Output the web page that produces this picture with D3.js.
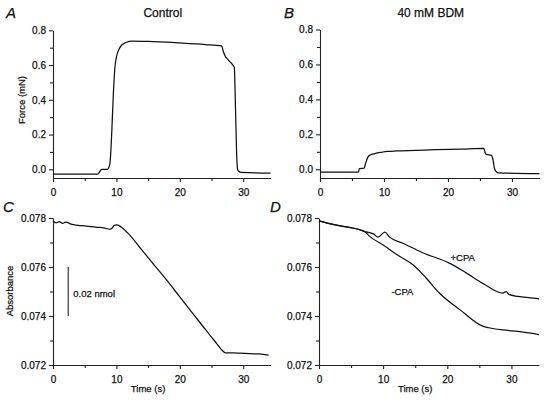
<!DOCTYPE html>
<html><head><meta charset="utf-8">
<script src="https://cdn.jsdelivr.net/npm/d3@7"></script>
<style>
body{margin:0;background:#fff;}
svg text{font-family:"Liberation Sans",Arial,Helvetica,sans-serif;fill:#111;stroke:#111;stroke-width:0.25px;}
</style></head>
<body><svg id="c" width="546" height="400"></svg>
<script>
// ---- data ----
const forceTicks = [0.0, 0.2, 0.4, 0.6, 0.8];
const forceMinor = [0.1, 0.3, 0.5, 0.7];
const absTicks = [0.072, 0.074, 0.076, 0.078];
const absMinor = [0.073, 0.075, 0.077];
const timeTicks = [0, 10, 20, 30];
const timeMinor = [5, 15, 25];

const controlT = [0, 7.1, 7.3, 7.5, 7.7, 8.6, 8.8, 9.0, 9.25, 9.5, 9.75, 10.0, 10.4, 10.8, 11.5, 12.5, 15, 20, 24, 26.6, 26.8, 27.1, 27.5, 28.0, 28.4, 28.6, 28.75, 28.95, 29.1, 29.3, 29.7, 34.3];
const controlF = [-0.027, -0.027, -0.018, -0.006, -0.001, 0.0, 0.01, 0.04, 0.2, 0.42, 0.58, 0.645, 0.69, 0.714, 0.73, 0.738, 0.736, 0.727, 0.718, 0.71, 0.685, 0.655, 0.635, 0.615, 0.598, 0.585, 0.4, 0.1, 0.0, -0.012, -0.017, -0.022];

const bdmT = [0, 6.0, 6.15, 6.9, 7.1, 7.45, 7.85, 8.6, 9.6, 10.5, 12, 15, 18, 22, 25.6, 25.8, 26.0, 26.8, 27.0, 27.3, 27.8, 34.3];
const bdmF = [-0.017, -0.017, 0.004, 0.006, 0.03, 0.068, 0.082, 0.09, 0.097, 0.102, 0.105, 0.108, 0.112, 0.115, 0.119, 0.095, 0.085, 0.08, 0.06, 0.0, -0.02, -0.025];

const absCT = [0, 0.5, 1, 1.5, 2, 3, 4, 5, 6, 7, 8, 9, 9.3, 9.6, 10.0, 10.5, 11, 12, 14, 16, 18, 20, 22, 24, 25.5, 26.5, 27.2, 28.5, 29.5, 31, 32.5, 34];
const absCV = [0.07788, 0.07780, 0.07785, 0.07778, 0.07783, 0.07774, 0.07770, 0.07768, 0.07765, 0.07762, 0.07760, 0.07754, 0.07758, 0.07768, 0.07772, 0.07768, 0.07758, 0.07733, 0.07670, 0.07607, 0.07544, 0.07478, 0.07412, 0.07346, 0.07298, 0.07265, 0.07250, 0.07250, 0.07248, 0.07246, 0.07245, 0.07240];

const minusCpaT = [0, 2, 4, 6, 7.15, 7.9, 10.0, 12.3, 14.7, 16.7, 18.8, 22, 25.5, 26.5, 28.7, 31, 33, 34.3];
const minusCpaV = [0.07788, 0.07775, 0.07765, 0.07755, 0.07744, 0.07725, 0.07690, 0.07648, 0.07608, 0.07555, 0.07493, 0.07425, 0.07359, 0.07352, 0.07343, 0.07337, 0.07330, 0.07324];

const plusCpaT = [0, 2, 4, 6, 7.15, 8.5, 9.2, 10.26, 11, 13.1, 16, 20.4, 23, 25.55, 28.66, 29.2, 29.6, 31, 33, 34.3];
const plusCpaV = [0.07788, 0.07775, 0.07765, 0.07755, 0.07744, 0.07735, 0.07722, 0.07742, 0.07722, 0.07697, 0.07660, 0.07615, 0.07575, 0.07533, 0.07493, 0.07500, 0.07488, 0.07480, 0.07474, 0.07470];

// ---- drawing ----
const svg = d3.select('#c');
const FONT = 10;

const panels = [
  {letter:'A', title:'Control', xr:[53,270.5], yd:[-0.05,0.8], yr:[178,30.3], ticks:forceTicks, minor:forceMinor, fmt:d3.format('.1f'), ylab:'Force (mN)', series:[[controlT,controlF]]},
  {letter:'B', title:'40 mM BDM', xr:[320,539.5], yd:[-0.05,0.8], yr:[178,29.5], ticks:forceTicks, minor:forceMinor, fmt:d3.format('.1f'), series:[[bdmT,bdmF]]},
  {letter:'C', xr:[53,270.5], yd:[0.072,0.078], yr:[365,218], ticks:absTicks, minor:absMinor, fmt:d3.format('.3f'), ylab:'Absorbance', xlab:'Time (s)', series:[[absCT,absCV]]},
  {letter:'D', xr:[319,539], yd:[0.072,0.078], yr:[365,218], ticks:absTicks, minor:absMinor, fmt:d3.format('.3f'), xlab:'Time (s)', series:[[minusCpaT,minusCpaV],[plusCpaT,plusCpaV]]}
];

panels.forEach(p => {
  const x = d3.scaleLinear().domain([0,34.3]).range(p.xr);
  const y = d3.scaleLinear().domain(p.yd).range(p.yr);
  const g = svg.append('g');
  const y0 = p.yr[0];

  g.append('g').attr('transform',`translate(0,${y0})`)
    .call(d3.axisBottom(x).tickValues(timeTicks).tickSize(4).tickSizeOuter(0).tickPadding(7).tickFormat(d3.format('d')));
  g.append('g').attr('transform',`translate(0,${y0})`)
    .call(d3.axisBottom(x).tickValues(timeMinor).tickSize(3).tickSizeOuter(0).tickFormat(''))
    .select('.domain').remove();
  g.append('g').attr('transform',`translate(${p.xr[0]},0)`)
    .call(d3.axisLeft(y).tickValues(p.ticks).tickSize(4).tickSizeOuter(0).tickPadding(3).tickFormat(p.fmt));
  g.append('g').attr('transform',`translate(${p.xr[0]},0)`)
    .call(d3.axisLeft(y).tickValues(p.minor).tickSize(3).tickSizeOuter(0).tickFormat(''))
    .select('.domain').remove();

  g.selectAll('.domain, .tick line').attr('stroke','#222').attr('stroke-width',1.1);
  g.selectAll('.tick text').attr('font-size',FONT).attr('fill','#111')
    .style('font-family','"Liberation Sans",Arial,sans-serif');

  const line = d3.line().x(d=>x(d[0])).y(d=>y(d[1])).curve(d3.curveMonotoneX);
  p.series.forEach(([ts,vs]) => {
    g.append('path').datum(ts.map((t,i)=>[t,vs[i]]))
      .attr('d',line).attr('fill','none').attr('stroke','#111').attr('stroke-width',1.25);
  });

  const isTop = p.letter==='A'||p.letter==='B';
  g.append('text').text(p.letter)
    .attr('x', p.letter==='A'?6:(p.letter==='B'?284:(p.letter==='C'?3:270)))
    .attr('y', isTop?18:212)
    .attr('font-size',15).attr('font-style','italic');

  if (p.title) {
    g.append('text').text(p.title).attr('x', (p.xr[0]+p.xr[1])/2 + 1).attr('y',17)
      .attr('text-anchor','middle').attr('font-size',12);
  }
  if (p.ylab) {
    g.append('text').text(p.ylab)
      .attr('transform',`translate(${p.letter==='A'?24.5:13},${p.letter==='A'?100:291}) rotate(-90)`)
      .attr('text-anchor','middle').attr('font-size',9.5);
  }
  if (p.xlab) {
    g.append('text').text(p.xlab).attr('x', x(15)).attr('y', 392)
      .attr('text-anchor','middle').attr('font-size',9.5);
  }
});

// scale bar in C
{
  const x = d3.scaleLinear().domain([0,34.3]).range([53,270.5]);
  const y = d3.scaleLinear().domain([0.072,0.078]).range([365,218]);
  svg.append('line').attr('x1',x(2.4)).attr('x2',x(2.4)).attr('y1',y(0.076)).attr('y2',y(0.074))
    .attr('stroke','#222').attr('stroke-width',1.1);
  svg.append('text').text('0.02 nmol').attr('x',x(3.2)).attr('y',y(0.0749)+3.5).attr('font-size',9.5);
}
// labels in D
{
  const x = d3.scaleLinear().domain([0,34.3]).range([319,539]);
  const y = d3.scaleLinear().domain([0.072,0.078]).range([365,218]);
  svg.append('text').text('+CPA').attr('x',x(22.4)).attr('y',y(0.0764)+3.5).attr('text-anchor','middle').attr('font-size',9.5);
  svg.append('text').text('-CPA').attr('x',x(13.0)).attr('y',y(0.0750)+3.5).attr('text-anchor','middle').attr('font-size',9.5);
}
</script></body></html>
